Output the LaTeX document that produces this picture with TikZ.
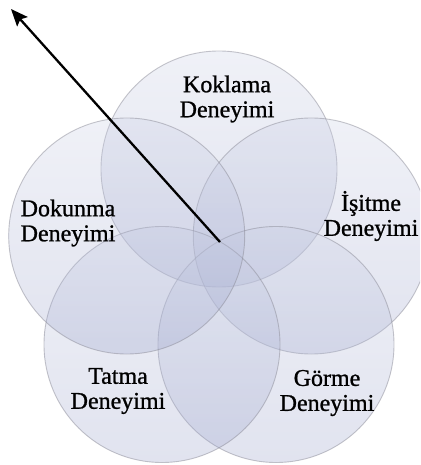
\documentclass[tikz,border=0pt]{standalone}
\usepackage{fontspec}
\setmainfont{Liberation Serif}
\newfontfamily\petalfont[FakeBold=1]{Liberation Serif}
\usetikzlibrary{arrows.meta}
\definecolor{petalTop}{RGB}{205,210,230}
\definecolor{petalBot}{RGB}{156,164,204}
\definecolor{petalEdge}{RGB}{140,140,152}
\begin{document}
\begin{tikzpicture}[x=1pt,y=-1pt,
  petal/.style={circle, minimum size=236pt, inner sep=0pt,
    draw=petalEdge, draw opacity=0.5, line width=0.9pt,
    top color=petalTop, bottom color=petalBot, fill opacity=0.3},
  caption/.style={font=\petalfont\fontsize{24}{25}\selectfont, align=center,
    text=black, inner sep=0pt},
  pointer/.style={line width=2.3pt, black,
    -{Stealth[length=17pt,width=14pt,inset=3pt]}}]
\useasboundingbox (0,0) rectangle (420,465);
\clip (0,0) rectangle (420,465);
\fill[white] (0,0) rectangle (420,465);

% five overlapping petals on a pentagon around (219,266)
\node[petal] (koklama) at (219,169) {};
\node[petal] (isitme)  at (311.3,236) {};
\node[petal] (gorme)   at (276,344.5) {};
\node[petal] (tatma)   at (162,344.5) {};
\node[petal] (dokunma) at (126.7,236) {};

% petal captions
\node[caption] (tKoklama) at (227,99)  {Koklama\\Deneyimi};
\node[caption] (tIsitme)  at (371,216) {İşitme\\Deneyimi};
\node[caption] (tGorme)   at (327,393) {Görme\\Deneyimi};
\node[caption] (tTatma)   at (118,391) {Tatma\\Deneyimi};
\node[caption] (tDokunma) at (68,223)  {Dokunma\\Deneyimi};

% pointer leaving the shared centre
\coordinate (hub) at (220,242);
\coordinate (tip) at (11,9);
\draw[pointer] (hub) -- (tip);
\end{tikzpicture}
\end{document}
